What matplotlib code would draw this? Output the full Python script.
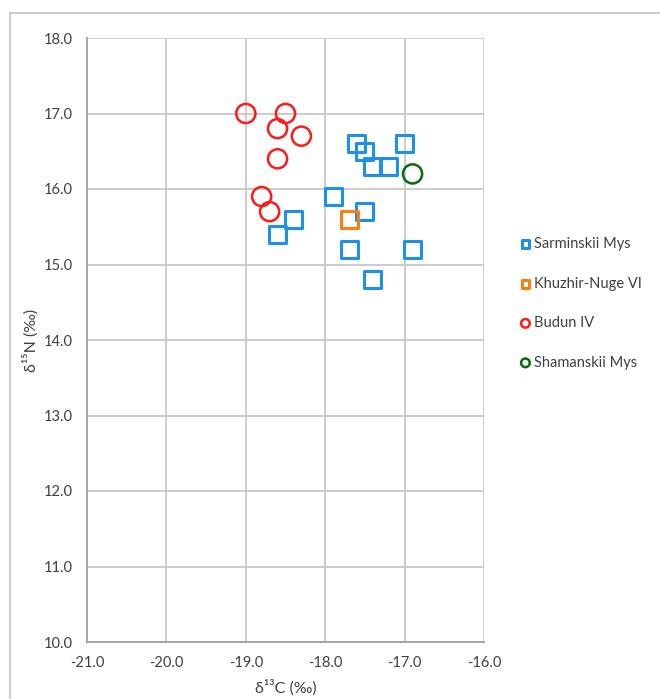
import matplotlib.pyplot as plt
from matplotlib.patches import Rectangle

plt.rcParams['font.family'] = ['Lato', 'DejaVu Sans']

# d13C / d15N values per site
sarminskii_c = [-17.6, -17.5, -17.0, -17.4, -17.2, -17.9, -18.4, -18.6, -17.5, -17.7, -16.9, -17.4]
sarminskii_n = [16.6, 16.5, 16.6, 16.3, 16.3, 15.9, 15.6, 15.4, 15.7, 15.2, 15.2, 14.8]
khuzhir_c = [-17.7]
khuzhir_n = [15.6]
budun_c = [-19.0, -18.5, -18.6, -18.3, -18.6, -18.8, -18.7]
budun_n = [17.0, 17.0, 16.8, 16.7, 16.4, 15.9, 15.7]
shamanskii_c = [-16.9]
shamanskii_n = [16.2]

x_ticks = [-21.0, -20.0, -19.0, -18.0, -17.0, -16.0]
y_ticks = [10.0, 11.0, 12.0, 13.0, 14.0, 15.0, 16.0, 17.0, 18.0]

fig = plt.figure(figsize=(6.6, 6.99), dpi=100)
ax = fig.add_axes([87 / 660, 1 - 642 / 699, 397 / 660, 604 / 699])

grid_col = '#c8c8c8'
text_col = '#404040'

ax.scatter(sarminskii_c, sarminskii_n, marker='s', s=150, facecolors='none',
           edgecolors='#1e90e8', linewidths=2.2, zorder=3, label='Sarminskii Mys')
ax.scatter(khuzhir_c, khuzhir_n, marker='s', s=150, facecolors='none',
           edgecolors='#ff7f0e', linewidths=2.2, zorder=3, label='Khuzhir-Nuge VI')
ax.scatter(budun_c, budun_n, marker='o', s=190, facecolors='none',
           edgecolors='#ff1a1a', linewidths=1.8, zorder=3, label='Budun IV')
ax.scatter(shamanskii_c, shamanskii_n, marker='o', s=190, facecolors='none',
           edgecolors='#0b6b0b', linewidths=1.8, zorder=3, label='Shamanskii Mys')

ax.set_xlim(-21, -16)
ax.set_ylim(10, 18)
ax.set_xticks(x_ticks)
ax.set_yticks(y_ticks)
ax.set_xticklabels([f'{v:.1f}' for v in x_ticks])
ax.set_yticklabels([f'{v:.1f}' for v in y_ticks])
ax.tick_params(axis='x', length=0, labelsize=10.5, colors=text_col, pad=10)
ax.tick_params(axis='y', length=0, labelsize=10.5, colors=text_col, pad=10)
ax.grid(True, color=grid_col, linewidth=1.3)
ax.set_axisbelow(True)
for side in ['top', 'right']:
    ax.spines[side].set_visible(False)
for side in ['left', 'bottom']:
    ax.spines[side].set_color('#a0a0a0')
    ax.spines[side].set_linewidth(1.3)

ax.set_xlabel('δ¹³C (‰)', fontsize=11.5, color=text_col, labelpad=7)
ax.set_ylabel('δ¹⁵N (‰)', fontsize=11.5, color=text_col, labelpad=4)

leg = ax.legend(loc='upper left', bbox_to_anchor=(505 / 660, 1 - 224 / 699),
                bbox_transform=fig.transFigure, frameon=False, fontsize=10.5,
                labelspacing=1.75, handletextpad=0.1, handlelength=1.0,
                markerscale=0.45)
for t in leg.get_texts():
    t.set_color(text_col)

# outer frame of the chart area
fig.patches.append(Rectangle((10 / 660, -0.05), 1.0, 1 - 13 / 699 + 0.05,
                             transform=fig.transFigure, fill=False,
                             edgecolor='#cccccc', linewidth=1.5))

fig.savefig('out.png', dpi=100)
